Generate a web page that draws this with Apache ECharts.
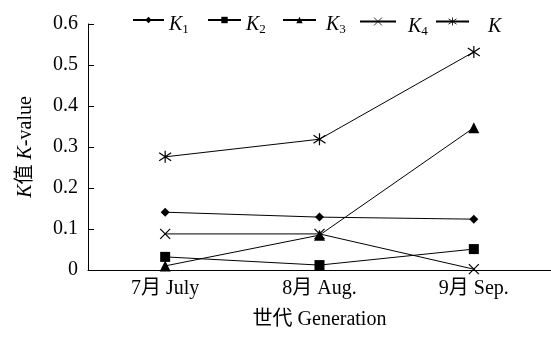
<!DOCTYPE html>
<html><head><meta charset="utf-8">
<script src="https://cdn.jsdelivr.net/npm/echarts@6/dist/echarts.min.js"></script>
<style>html,body{margin:0;padding:0;background:#fff}#c{width:551px;height:337px}</style>
</head><body><div id="c"></div>
<script>
const categories = ['7月 July', '8月 Aug.', '9月 Sep.'];
const seriesNames = ['K1', 'K2', 'K3', 'K4', 'K'];
const K1 = [0.141, 0.129, 0.124];
const K2 = [0.032, 0.012, 0.051];
const K3 = [0.010, 0.085, 0.347];
const K4 = [0.088, 0.088, 0.002];
const K = [0.276, 0.319, 0.532];
const yTicks = [0, 0.1, 0.2, 0.3, 0.4, 0.5, 0.6];

const font = '"Liberation Serif", "Noto Sans CJK SC", serif';
const crossPath = 'path://M0,0L10,10M10,0L0,10';
const starPath = 'path://M0,1L10,9M10,1L0,9M5,-1L5,11';
const symbols = ['diamond', 'rect', 'triangle', crossPath, starPath];
const sizes = [9, 10, 11, 10, 12];
const data = [K1, K2, K3, K4, K];

// legend placement (pixels): line start, line length, extra text gap
const legendLeft = [132, 207, 282, 359, 435];
const legendLineW = [31, 33, 33, 36, 33];
const legendTextPad = [0, 0, 5, 7, 14];

const legends = seriesNames.map((n, i) => ({
  top: 15, left: legendLeft[i], padding: 0,
  itemWidth: legendLineW[i], itemHeight: i >= 3 ? 10 : 8,
  itemStyle: i >= 3 ? { borderWidth: 0.8, borderColor: '#000', color: 'none' } : { color: '#000' },
  data: [n],
  formatter: function (name) {
    if (name === 'K') return '{i|K}';
    return '{i|K}{s|' + name.slice(1) + '}';
  },
  textStyle: {
    fontFamily: font, color: '#000',
    rich: {
      i: { fontFamily: font, fontStyle: 'italic', fontSize: 20, color: '#000', padding: [10, 0, 0, legendTextPad[i]] },
      s: { fontFamily: font, fontSize: 13, color: '#000', padding: [20, 0, 0, 0] }
    }
  }
}));

const chart = echarts.init(document.getElementById('c'));
chart.setOption({
  animation: false,
  backgroundColor: '#fff',
  textStyle: { fontFamily: font, color: '#000' },
  grid: { left: 88, right: 0, top: 24, bottom: 67 },
  legend: legends,
  xAxis: {
    type: 'category', data: categories, boundaryGap: true,
    name: '世代 Generation', nameLocation: 'middle', nameGap: 40,
    nameTextStyle: { fontFamily: font, fontSize: 20, color: '#000' },
    axisLine: { lineStyle: { color: '#000', width: 1 } },
    axisTick: { show: false },
    axisLabel: { fontFamily: font, fontSize: 20, color: '#000', margin: 9 }
  },
  yAxis: {
    type: 'value', min: 0, max: 0.6, interval: 0.1,
    name: '{i|K}值 {i|K}-value', nameLocation: 'middle', nameGap: 52, nameRotate: 90,
    nameTextStyle: { fontFamily: font, fontSize: 20, color: '#000',
      rich: { i: { fontFamily: font, fontStyle: 'italic', fontSize: 20, color: '#000' } } },
    axisLine: { show: true, lineStyle: { color: '#000', width: 1 } },
    axisTick: { show: true, inside: true, length: 6, lineStyle: { color: '#000' } },
    splitLine: { show: false },
    axisLabel: { fontFamily: font, fontSize: 20, color: '#000', margin: 10,
      formatter: v => (yTicks.indexOf(Math.round(v * 10) / 10) >= 0 ? (v === 0 ? '0' : v.toFixed(1)) : '') }
  },
  series: seriesNames.map((n, i) => ({
    name: n, type: 'line', data: data[i],
    symbol: symbols[i], symbolSize: sizes[i],
    lineStyle: { color: '#000', width: 1 },
    itemStyle: i >= 3 ? { color: 'none', borderColor: '#000', borderWidth: 1.2 } : { color: '#000' }
  }))
});
</script></body></html>
